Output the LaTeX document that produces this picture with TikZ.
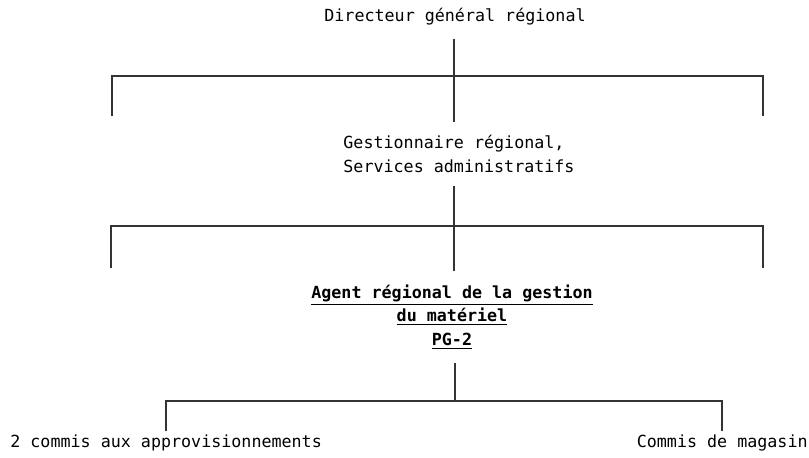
\documentclass[tikz,border=0pt]{standalone}
\usepackage{fontspec}
\setmonofont{DejaVu Sans Mono}
\usepackage{tikz}

\begin{document}
\begin{tikzpicture}[x=0.02cm, y=-0.02cm,
  every node/.style={font=\ttfamily\fontsize{9.5}{13.3}\selectfont, text=black},
  post/.style={inner xsep=0pt, inner ysep=7.5pt},
  staff/.style={inner xsep=0pt, inner ysep=2pt},
  link/.style={line width=1.2pt, draw=black!80}]
\useasboundingbox (0,0) rectangle (809,457);
\node[post] (dg) at (455,17) {Directeur général régional};
\node[post, align=left] (gr) at (459,154) {Gestionnaire régional,\\Services administratifs};
\node[post, align=center, font=\ttfamily\bfseries\fontsize{9.5}{13.6}\selectfont] (ag) at (452,317) {\underline{Agent régional de la gestion}\\\underline{du matériel}\\\underline{PG-2}};
\node[staff, anchor=west] (ca) at (10,443) {2 commis aux approvisionnements};
\node[staff, anchor=east] (cm) at (808,443) {Commis de magasin};
\coordinate (b1) at (454,76);
\coordinate (l1) at (112,116);
\coordinate (r1) at (763,116);
\coordinate (b2) at (454,226);
\coordinate (l2) at (111,268);
\coordinate (r2) at (763,268);
\coordinate (b3) at (455,401);
\draw[link] (dg.south -| b1) -- (gr.north -| b1);
\draw[link] (l1) |- (b1) -| (r1);
\draw[link] (gr.south -| b2) -- (ag.north -| b2);
\draw[link] (l2) |- (b2) -| (r2);
\draw[link] (ag.south -| b3) -- (b3);
\draw[link] (ca.north) |- (b3) -| (cm.north);
\end{tikzpicture}
\end{document}
